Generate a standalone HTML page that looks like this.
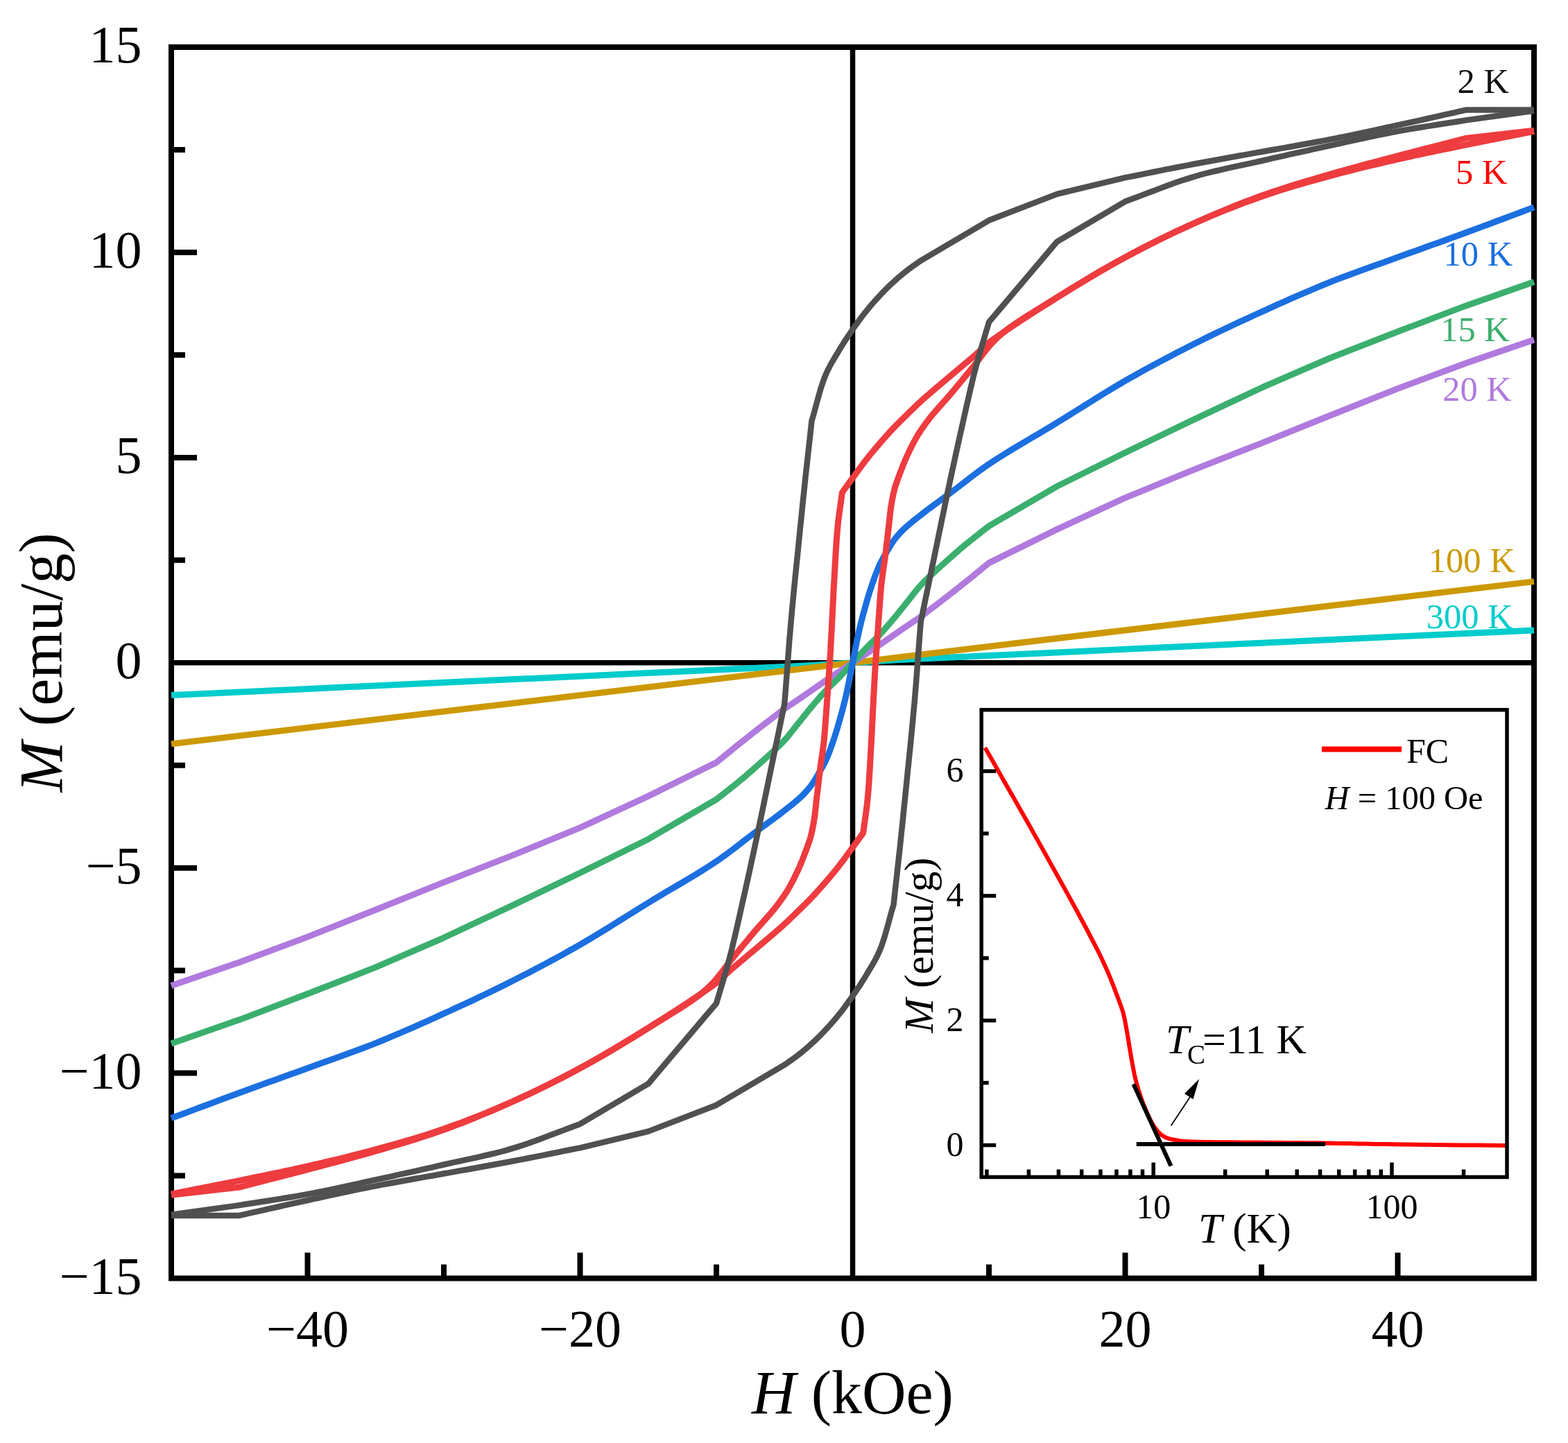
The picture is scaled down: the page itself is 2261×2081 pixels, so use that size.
<!DOCTYPE html>
<html><head><meta charset="utf-8"><style>
html,body{margin:0;padding:0;background:#fff;}
body{width:2261px;height:2081px;overflow:hidden;}
svg{display:block;}
</style></head><body>
<svg width="2261" height="2081" viewBox="0 0 2261 2081">
<rect x="0" y="0" width="2261" height="2081" fill="#fff"/>
<rect x="247" y="68" width="1965" height="1775.5" fill="none" stroke="#000" stroke-width="8"/>
<line x1="247" y1="955.75" x2="2212" y2="955.75" stroke="#000" stroke-width="7.5"/>
<line x1="1229.5" y1="68" x2="1229.5" y2="1843.5" stroke="#000" stroke-width="7.5"/>
<line x1="247.0" y1="1547.5" x2="284.0" y2="1547.5" stroke="#000" stroke-width="8"/>
<line x1="247.0" y1="1251.7" x2="284.0" y2="1251.7" stroke="#000" stroke-width="8"/>
<line x1="247.0" y1="659.9" x2="284.0" y2="659.9" stroke="#000" stroke-width="8"/>
<line x1="247.0" y1="364.0" x2="284.0" y2="364.0" stroke="#000" stroke-width="8"/>
<line x1="247.0" y1="1695.5" x2="267.0" y2="1695.5" stroke="#000" stroke-width="8"/>
<line x1="247.0" y1="1399.6" x2="267.0" y2="1399.6" stroke="#000" stroke-width="8"/>
<line x1="247.0" y1="1103.7" x2="267.0" y2="1103.7" stroke="#000" stroke-width="8"/>
<line x1="247.0" y1="807.8" x2="267.0" y2="807.8" stroke="#000" stroke-width="8"/>
<line x1="247.0" y1="511.9" x2="267.0" y2="511.9" stroke="#000" stroke-width="8"/>
<line x1="247.0" y1="216.0" x2="267.0" y2="216.0" stroke="#000" stroke-width="8"/>
<line x1="443.5" y1="1843.5" x2="443.5" y2="1806.5" stroke="#000" stroke-width="8"/>
<line x1="836.5" y1="1843.5" x2="836.5" y2="1806.5" stroke="#000" stroke-width="8"/>
<line x1="1622.5" y1="1843.5" x2="1622.5" y2="1806.5" stroke="#000" stroke-width="8"/>
<line x1="2015.5" y1="1843.5" x2="2015.5" y2="1806.5" stroke="#000" stroke-width="8"/>
<line x1="640.0" y1="1843.5" x2="640.0" y2="1823.5" stroke="#000" stroke-width="8"/>
<line x1="1033.0" y1="1843.5" x2="1033.0" y2="1823.5" stroke="#000" stroke-width="8"/>
<line x1="1426.0" y1="1843.5" x2="1426.0" y2="1823.5" stroke="#000" stroke-width="8"/>
<line x1="1819.0" y1="1843.5" x2="1819.0" y2="1823.5" stroke="#000" stroke-width="8"/>
<polyline points="247.0,1002.5 443.5,993.4 640.0,984.3 836.5,975.2 934.8,970.6 1033.0,966.0 1092.0,963.3 1131.2,961.4 1150.9,960.4 1170.5,959.4 1190.2,958.3 1209.8,957.0 1229.5,955.8 1249.2,954.5 1268.8,953.2 1288.5,952.1 1308.1,951.1 1327.8,950.1 1367.0,948.2 1426.0,945.5 1524.2,940.9 1622.5,936.3 1819.0,927.2 2015.5,918.1 2212.0,909.0" fill="none" stroke="#00CCCC" stroke-width="9" stroke-linejoin="round" stroke-linecap="butt"/>
<polyline points="247.0,1072.9 2212.0,838.6" fill="none" stroke="#CC9900" stroke-width="9" stroke-linejoin="round" stroke-linecap="butt"/>
<polyline points="247.0,1421.5 345.3,1387.8 443.5,1351.1 541.8,1312.0 640.0,1272.4 738.2,1233.9 836.5,1193.7 934.8,1148.1 1033.0,1099.6 1037.1,1096.2 1041.2,1092.9 1045.3,1089.6 1049.4,1086.3 1053.4,1083.0 1057.5,1079.6 1061.6,1076.3 1065.7,1073.0 1069.8,1069.7 1073.9,1066.4 1078.0,1063.2 1082.1,1059.9 1086.2,1056.7 1090.3,1053.5 1094.4,1050.3 1098.5,1047.2 1102.6,1044.0 1106.7,1040.9 1110.8,1037.7 1114.9,1034.6 1119.0,1031.5 1123.1,1028.3 1127.2,1025.2 1131.2,1022.0 1132.9,1020.9 1134.5,1019.9 1136.2,1018.8 1137.8,1017.7 1139.4,1016.6 1141.1,1015.6 1142.7,1014.5 1144.4,1013.4 1146.0,1012.3 1147.6,1011.2 1149.3,1010.1 1150.9,1009.0 1152.5,1007.9 1154.2,1006.8 1155.8,1005.6 1157.5,1004.5 1159.1,1003.4 1160.7,1002.2 1162.4,1001.1 1164.0,1000.0 1165.6,998.8 1167.3,997.7 1168.9,996.5 1170.5,995.4 1172.2,994.3 1173.8,993.1 1175.5,992.0 1177.1,990.8 1178.7,989.7 1180.4,988.6 1182.0,987.4 1183.6,986.3 1185.3,985.2 1186.9,984.0 1188.6,982.9 1190.2,981.8 1191.8,980.7 1193.5,979.6 1195.1,978.5 1196.7,977.4 1198.4,976.3 1200.0,975.2 1201.7,974.2 1203.3,973.1 1204.9,972.0 1206.6,970.9 1208.2,969.9 1209.8,968.8 1211.5,967.7 1213.1,966.6 1214.8,965.5 1216.4,964.4 1218.0,963.3 1219.7,962.3 1221.3,961.2 1222.9,960.1 1224.6,959.0 1226.2,957.9 1227.9,956.8 1229.5,955.7 1231.1,954.7 1232.8,953.6 1234.4,952.5 1236.1,951.4 1237.7,950.3 1239.3,949.2 1241.0,948.2 1242.6,947.1 1244.2,946.0 1245.9,944.9 1247.5,943.8 1249.2,942.7 1250.8,941.6 1252.4,940.6 1254.1,939.5 1255.7,938.4 1257.3,937.3 1259.0,936.3 1260.6,935.2 1262.3,934.1 1263.9,933.0 1265.5,931.9 1267.2,930.8 1268.8,929.7 1270.4,928.6 1272.1,927.5 1273.7,926.3 1275.4,925.2 1277.0,924.1 1278.6,922.9 1280.3,921.8 1281.9,920.7 1283.5,919.5 1285.2,918.4 1286.8,917.2 1288.5,916.1 1290.1,915.0 1291.7,913.8 1293.4,912.7 1295.0,911.5 1296.6,910.4 1298.3,909.3 1299.9,908.1 1301.5,907.0 1303.2,905.9 1304.8,904.7 1306.5,903.6 1308.1,902.5 1309.7,901.4 1311.4,900.3 1313.0,899.2 1314.6,898.1 1316.3,897.0 1317.9,895.9 1319.6,894.9 1321.2,893.8 1322.8,892.7 1324.5,891.6 1326.1,890.6 1327.8,889.5 1331.8,886.3 1335.9,883.2 1340.0,880.0 1344.1,876.9 1348.2,873.8 1352.3,870.6 1356.4,867.5 1360.5,864.3 1364.6,861.2 1368.7,858.0 1372.8,854.8 1376.9,851.6 1381.0,848.3 1385.1,845.1 1389.2,841.8 1393.3,838.5 1397.4,835.2 1401.5,831.9 1405.6,828.5 1409.6,825.2 1413.7,821.9 1417.8,818.6 1421.9,815.3 1426.0,811.9 1524.2,763.4 1622.5,717.8 1720.8,677.6 1819.0,639.1 1917.2,599.5 2015.5,560.4 2113.8,523.7 2212.0,490.0" fill="none" stroke="#B07ADE" stroke-width="9" stroke-linejoin="round" stroke-linecap="butt"/>
<polyline points="247.0,1504.9 345.3,1470.6 443.5,1433.3 541.8,1394.9 640.0,1352.3 738.2,1306.1 836.5,1258.8 934.8,1210.2 1033.0,1152.8 1034.6,1151.5 1036.3,1150.3 1037.9,1149.0 1039.6,1147.7 1041.2,1146.4 1042.8,1145.2 1044.5,1143.9 1046.1,1142.6 1047.7,1141.3 1049.4,1140.0 1051.0,1138.7 1052.7,1137.4 1054.3,1136.1 1055.9,1134.8 1057.6,1133.5 1059.2,1132.2 1060.9,1130.9 1062.5,1129.5 1064.1,1128.2 1065.8,1126.9 1067.4,1125.5 1069.0,1124.2 1070.7,1122.8 1072.3,1121.5 1073.9,1120.1 1075.6,1118.7 1077.2,1117.2 1078.9,1115.8 1080.5,1114.4 1082.2,1113.0 1083.8,1111.5 1085.4,1110.1 1087.1,1108.6 1088.7,1107.2 1090.3,1105.7 1092.0,1104.3 1093.6,1102.8 1095.2,1101.4 1096.9,1099.9 1098.5,1098.4 1100.2,1097.0 1101.8,1095.5 1103.4,1094.0 1105.1,1092.5 1106.7,1091.1 1108.3,1089.6 1110.0,1088.1 1111.6,1086.5 1113.3,1085.0 1114.9,1083.5 1116.6,1082.0 1118.2,1080.4 1119.9,1078.9 1121.5,1077.4 1123.2,1075.8 1124.8,1074.2 1126.4,1072.6 1128.0,1071.0 1129.7,1069.3 1131.2,1067.6 1132.9,1065.7 1134.6,1063.8 1136.3,1061.8 1137.9,1059.8 1139.5,1057.8 1141.2,1055.7 1142.8,1053.7 1144.4,1051.6 1146.0,1049.5 1147.6,1047.4 1149.3,1045.4 1150.9,1043.3 1152.5,1041.3 1154.2,1039.3 1155.8,1037.2 1157.4,1035.2 1159.1,1033.2 1160.7,1031.1 1162.3,1029.1 1164.0,1027.1 1165.6,1025.0 1167.2,1023.0 1168.9,1021.0 1170.5,1019.1 1172.2,1017.1 1173.8,1015.2 1175.4,1013.3 1177.0,1011.4 1178.7,1009.5 1180.3,1007.6 1181.9,1005.7 1183.6,1003.9 1185.2,1002.0 1186.9,1000.2 1188.5,998.4 1190.2,996.6 1191.8,994.9 1193.4,993.2 1195.1,991.6 1196.7,990.0 1198.4,988.4 1200.0,986.8 1201.7,985.2 1203.3,983.6 1205.0,982.0 1206.6,980.4 1208.2,978.7 1209.8,977.1 1211.5,975.3 1213.2,973.6 1214.8,971.8 1216.4,970.1 1218.1,968.3 1219.7,966.5 1221.3,964.7 1223.0,962.9 1224.6,961.1 1226.2,959.3 1227.9,957.5 1229.5,955.8 1231.1,954.0 1232.8,952.2 1234.4,950.4 1236.0,948.6 1237.7,946.8 1239.3,945.0 1240.9,943.2 1242.6,941.4 1244.2,939.7 1245.8,937.9 1247.5,936.2 1249.2,934.4 1250.8,932.8 1252.4,931.1 1254.0,929.5 1255.7,927.9 1257.3,926.3 1259.0,924.7 1260.6,923.1 1262.3,921.5 1263.9,919.9 1265.6,918.3 1267.2,916.6 1268.8,914.9 1270.5,913.1 1272.1,911.3 1273.8,909.5 1275.4,907.6 1277.1,905.8 1278.7,903.9 1280.3,902.0 1282.0,900.1 1283.6,898.2 1285.2,896.3 1286.8,894.4 1288.4,892.4 1290.1,890.5 1291.8,888.5 1293.4,886.5 1295.0,884.4 1296.7,882.4 1298.3,880.4 1299.9,878.3 1301.6,876.3 1303.2,874.3 1304.8,872.2 1306.5,870.2 1308.1,868.2 1309.7,866.1 1311.4,864.1 1313.0,862.0 1314.6,859.9 1316.2,857.8 1317.8,855.8 1319.5,853.7 1321.1,851.7 1322.7,849.7 1324.4,847.7 1326.1,845.8 1327.8,843.9 1329.3,842.2 1331.0,840.5 1332.6,838.9 1334.2,837.3 1335.8,835.7 1337.5,834.1 1339.1,832.6 1340.8,831.1 1342.4,829.5 1344.1,828.0 1345.7,826.5 1347.4,825.0 1349.0,823.4 1350.7,821.9 1352.3,820.4 1353.9,819.0 1355.6,817.5 1357.2,816.0 1358.8,814.5 1360.5,813.1 1362.1,811.6 1363.8,810.1 1365.4,808.7 1367.0,807.2 1368.7,805.8 1370.3,804.3 1371.9,802.9 1373.6,801.4 1375.2,800.0 1376.8,798.5 1378.5,797.1 1380.1,795.7 1381.8,794.3 1383.4,792.8 1385.1,791.4 1386.7,790.0 1388.3,788.7 1390.0,787.3 1391.6,786.0 1393.2,784.6 1394.9,783.3 1396.5,782.0 1398.1,780.6 1399.8,779.3 1401.4,778.0 1403.1,776.7 1404.7,775.4 1406.3,774.1 1408.0,772.8 1409.6,771.5 1411.3,770.2 1412.9,768.9 1414.5,767.6 1416.2,766.3 1417.8,765.1 1419.4,763.8 1421.1,762.5 1422.7,761.2 1424.4,760.0 1426.0,758.7 1524.2,701.3 1622.5,652.7 1720.8,605.4 1819.0,559.2 1917.2,516.6 2015.5,478.2 2113.8,440.9 2212.0,406.6" fill="none" stroke="#3BAF6E" stroke-width="9" stroke-linejoin="round" stroke-linecap="butt"/>
<polyline points="247.0,1612.6 255.2,1609.6 263.4,1606.5 271.6,1603.4 279.7,1600.4 287.9,1597.3 296.1,1594.2 304.3,1591.2 312.5,1588.1 320.7,1585.1 328.9,1582.0 337.1,1579.0 345.3,1576.0 353.4,1573.0 361.6,1570.0 369.8,1567.0 378.0,1564.1 386.2,1561.1 394.4,1558.2 402.6,1555.2 410.7,1552.3 418.9,1549.3 427.1,1546.4 435.3,1543.4 443.5,1540.4 451.7,1537.5 459.9,1534.5 468.1,1531.6 476.3,1528.7 484.5,1525.7 492.7,1522.8 500.9,1519.8 509.1,1516.8 517.3,1513.8 525.4,1510.7 533.6,1507.6 541.8,1504.3 550.0,1501.0 558.2,1497.6 566.4,1494.2 574.6,1490.7 582.8,1487.2 591.0,1483.7 599.2,1480.1 607.3,1476.4 615.5,1472.8 623.7,1469.1 631.8,1465.4 640.0,1461.7 648.2,1458.0 656.4,1454.2 664.6,1450.4 672.9,1446.6 681.1,1442.8 689.2,1438.9 697.4,1435.0 705.6,1431.1 713.8,1427.1 722.0,1423.1 730.1,1419.1 738.2,1415.0 746.5,1410.8 754.7,1406.6 762.9,1402.4 771.1,1398.1 779.4,1393.8 787.6,1389.4 795.7,1385.0 803.9,1380.6 812.1,1376.1 820.2,1371.5 828.4,1367.0 836.5,1362.3 844.7,1357.5 853.0,1352.6 861.2,1347.7 869.4,1342.7 877.6,1337.6 885.7,1332.5 893.9,1327.4 902.1,1322.3 910.2,1317.2 918.4,1312.1 926.6,1307.0 934.8,1302.0 943.0,1296.9 951.5,1291.8 960.1,1286.7 968.8,1281.6 977.5,1276.5 986.1,1271.3 994.6,1266.3 1002.9,1261.3 1011.0,1256.3 1018.7,1251.5 1026.1,1246.8 1033.0,1242.2 1037.8,1238.9 1042.3,1235.7 1046.6,1232.6 1050.8,1229.5 1054.8,1226.5 1058.8,1223.5 1062.6,1220.5 1066.5,1217.5 1070.3,1214.5 1074.2,1211.5 1078.1,1208.5 1082.1,1205.5 1086.3,1202.4 1090.6,1199.2 1094.9,1196.0 1099.3,1192.7 1103.7,1189.5 1108.1,1186.2 1112.4,1183.1 1116.5,1180.0 1120.6,1177.0 1124.4,1174.1 1127.9,1171.4 1131.2,1168.8 1133.2,1167.2 1135.1,1165.7 1137.0,1164.3 1138.8,1162.9 1140.5,1161.5 1142.1,1160.2 1143.7,1158.9 1145.2,1157.7 1146.7,1156.4 1148.2,1155.2 1149.5,1154.0 1150.9,1152.8 1151.9,1152.0 1152.8,1151.1 1153.6,1150.4 1154.5,1149.6 1155.3,1148.8 1156.1,1148.1 1156.9,1147.3 1157.6,1146.6 1158.4,1145.8 1159.2,1145.0 1159.9,1144.2 1160.7,1143.4 1161.6,1142.4 1162.4,1141.5 1163.2,1140.6 1164.1,1139.6 1164.9,1138.7 1165.7,1137.7 1166.6,1136.7 1167.4,1135.7 1168.2,1134.7 1169.0,1133.7 1169.8,1132.6 1170.5,1131.5 1171.4,1130.3 1172.3,1129.0 1173.1,1127.8 1173.9,1126.5 1174.7,1125.1 1175.6,1123.8 1176.4,1122.4 1177.2,1121.1 1178.0,1119.7 1178.8,1118.3 1179.6,1116.9 1180.4,1115.5 1181.2,1114.1 1182.0,1112.7 1182.9,1111.3 1183.7,1109.8 1184.6,1108.4 1185.4,1107.0 1186.2,1105.5 1187.0,1104.0 1187.8,1102.5 1188.6,1101.0 1189.4,1099.4 1190.2,1097.8 1191.1,1095.9 1191.9,1094.0 1192.8,1092.0 1193.6,1090.0 1194.5,1087.9 1195.3,1085.9 1196.1,1083.8 1196.9,1081.6 1197.7,1079.5 1198.5,1077.3 1199.2,1075.1 1200.0,1072.9 1200.9,1070.5 1201.7,1068.0 1202.6,1065.4 1203.4,1062.9 1204.2,1060.3 1205.1,1057.7 1205.9,1055.0 1206.7,1052.4 1207.5,1049.7 1208.3,1047.0 1209.1,1044.3 1209.8,1041.6 1210.7,1038.6 1211.5,1035.6 1212.4,1032.6 1213.2,1029.6 1214.1,1026.5 1214.9,1023.5 1215.7,1020.4 1216.5,1017.2 1217.3,1014.0 1218.1,1010.8 1218.9,1007.6 1219.7,1004.3 1220.5,1000.5 1221.4,996.6 1222.2,992.6 1223.1,988.6 1223.9,984.5 1224.7,980.4 1225.5,976.3 1226.3,972.2 1227.1,968.0 1227.9,963.9 1228.7,959.8 1229.5,955.8 1230.3,951.7 1231.1,947.6 1231.9,943.5 1232.7,939.3 1233.5,935.2 1234.3,931.1 1235.1,927.0 1235.9,922.9 1236.8,918.9 1237.6,914.9 1238.5,911.0 1239.3,907.2 1240.1,903.9 1240.9,900.7 1241.7,897.5 1242.5,894.3 1243.3,891.1 1244.1,888.0 1244.9,885.0 1245.8,881.9 1246.6,878.9 1247.5,875.9 1248.3,872.9 1249.2,869.9 1249.9,867.2 1250.7,864.5 1251.5,861.8 1252.3,859.1 1253.1,856.5 1253.9,853.8 1254.8,851.2 1255.6,848.6 1256.4,846.1 1257.3,843.5 1258.1,841.0 1259.0,838.6 1259.8,836.4 1260.5,834.2 1261.3,832.0 1262.1,829.9 1262.9,827.7 1263.7,825.6 1264.5,823.6 1265.4,821.5 1266.2,819.5 1267.1,817.5 1267.9,815.6 1268.8,813.7 1269.6,812.1 1270.4,810.5 1271.2,809.0 1272.0,807.5 1272.8,806.0 1273.6,804.5 1274.4,803.1 1275.3,801.7 1276.1,800.2 1277.0,798.8 1277.8,797.4 1278.6,796.0 1279.4,794.6 1280.2,793.2 1281.0,791.8 1281.8,790.4 1282.6,789.1 1283.4,787.7 1284.3,786.4 1285.1,785.0 1285.9,783.7 1286.7,782.5 1287.6,781.2 1288.4,780.0 1289.2,778.9 1290.0,777.8 1290.8,776.8 1291.6,775.8 1292.4,774.8 1293.3,773.8 1294.1,772.8 1294.9,771.9 1295.8,770.9 1296.6,770.0 1297.4,769.1 1298.3,768.1 1299.1,767.3 1299.8,766.5 1300.6,765.7 1301.4,764.9 1302.1,764.2 1302.9,763.4 1303.7,762.7 1304.5,761.9 1305.4,761.1 1306.2,760.4 1307.1,759.5 1308.1,758.7 1309.5,757.5 1310.8,756.3 1312.3,755.1 1313.8,753.8 1315.3,752.6 1316.9,751.3 1318.5,750.0 1320.2,748.6 1322.0,747.2 1323.9,745.8 1325.8,744.3 1327.8,742.7 1331.1,740.1 1334.6,737.4 1338.4,734.5 1342.5,731.5 1346.6,728.4 1350.9,725.3 1355.3,722.0 1359.7,718.8 1364.1,715.5 1368.4,712.3 1372.7,709.1 1376.9,706.0 1380.9,703.0 1384.8,700.0 1388.7,697.0 1392.5,694.0 1396.4,691.0 1400.2,688.0 1404.2,685.0 1408.2,682.0 1412.4,678.9 1416.7,675.8 1421.2,672.6 1426.0,669.3 1432.9,664.7 1440.3,660.0 1448.0,655.2 1456.1,650.2 1464.4,645.2 1472.9,640.2 1481.5,635.0 1490.2,629.9 1498.9,624.8 1507.5,619.7 1516.0,614.6 1524.2,609.5 1532.4,604.5 1540.6,599.4 1548.8,594.3 1556.9,589.2 1565.1,584.1 1573.3,579.0 1581.4,573.9 1589.6,568.8 1597.8,563.8 1606.0,558.9 1614.3,554.0 1622.5,549.2 1630.6,544.5 1638.8,540.0 1646.9,535.4 1655.1,530.9 1663.3,526.5 1671.4,522.1 1679.6,517.7 1687.9,513.4 1696.1,509.1 1704.3,504.9 1712.5,500.7 1720.7,496.5 1728.9,492.4 1737.0,488.4 1745.2,484.4 1753.4,480.4 1761.6,476.5 1769.8,472.6 1777.9,468.7 1786.1,464.9 1794.4,461.1 1802.6,457.3 1810.8,453.5 1819.0,449.8 1827.2,446.1 1835.3,442.4 1843.5,438.7 1851.7,435.1 1859.8,431.4 1868.0,427.8 1876.2,424.3 1884.4,420.8 1892.6,417.3 1900.8,413.9 1909.0,410.5 1917.2,407.2 1925.4,403.9 1933.6,400.8 1941.7,397.7 1949.9,394.7 1958.1,391.7 1966.3,388.7 1974.5,385.8 1982.7,382.8 1990.9,379.9 1999.1,377.0 2007.3,374.0 2015.5,371.1 2023.7,368.1 2031.9,365.1 2040.1,362.2 2048.3,359.2 2056.4,356.3 2064.6,353.3 2072.8,350.4 2081.0,347.4 2089.2,344.5 2097.4,341.5 2105.6,338.5 2113.8,335.5 2121.9,332.5 2130.1,329.5 2138.3,326.4 2146.5,323.4 2154.7,320.3 2162.9,317.3 2171.1,314.2 2179.3,311.1 2187.4,308.1 2195.6,305.0 2203.8,301.9 2212.0,298.9" fill="none" stroke="#1B6FDF" stroke-width="9" stroke-linejoin="round" stroke-linecap="butt"/>
<polyline points="2212.0,188.2 2113.8,199.4 2105.6,201.5 2097.4,203.7 2089.2,205.8 2081.0,207.9 2072.8,210.0 2064.6,212.1 2056.4,214.2 2048.2,216.3 2040.1,218.4 2031.9,220.6 2023.7,222.7 2015.5,224.9 2007.3,227.0 1999.1,229.2 1990.9,231.4 1982.7,233.5 1974.5,235.7 1966.3,237.9 1958.1,240.1 1950.0,242.3 1941.8,244.5 1933.6,246.8 1925.4,249.1 1917.2,251.5 1909.0,253.9 1900.8,256.3 1892.6,258.7 1884.4,261.1 1876.2,263.6 1868.0,266.1 1859.8,268.6 1851.6,271.2 1843.4,273.9 1835.3,276.6 1827.1,279.4 1819.0,282.3 1810.8,285.3 1802.5,288.4 1794.3,291.5 1786.1,294.7 1777.9,298.0 1769.7,301.4 1761.5,304.8 1753.3,308.2 1745.2,311.7 1737.0,315.3 1728.9,318.9 1720.8,322.5 1712.5,326.3 1704.3,330.1 1696.0,333.9 1687.8,337.8 1679.6,341.8 1671.4,345.8 1663.2,349.9 1655.0,354.0 1646.9,358.2 1638.7,362.4 1630.6,366.7 1622.5,371.1 1614.2,375.6 1606.0,380.2 1597.8,384.8 1589.5,389.5 1581.3,394.3 1573.2,399.1 1565.0,404.0 1556.8,409.0 1548.7,413.9 1540.5,418.9 1532.4,424.0 1524.2,429.0 1515.8,434.4 1506.9,440.0 1497.8,445.8 1488.5,451.7 1479.3,457.6 1470.2,463.6 1461.4,469.4 1453.0,475.0 1445.1,480.4 1437.9,485.4 1431.5,490.0 1426.0,494.1 1423.8,495.9 1421.7,497.6 1419.9,499.2 1418.2,500.7 1416.6,502.2 1415.1,503.6 1413.7,505.0 1412.3,506.4 1410.9,507.7 1409.4,509.1 1407.9,510.5 1406.3,511.9 1404.7,513.3 1403.1,514.7 1401.5,516.1 1399.8,517.5 1398.2,518.9 1396.5,520.2 1394.9,521.6 1393.3,523.0 1391.6,524.3 1390.0,525.7 1388.3,527.1 1386.7,528.5 1385.1,529.9 1383.4,531.2 1381.8,532.6 1380.2,534.0 1378.5,535.4 1376.9,536.8 1375.2,538.1 1373.6,539.5 1372.0,540.9 1370.3,542.3 1368.7,543.7 1367.1,545.0 1365.4,546.4 1363.8,547.8 1362.1,549.2 1360.5,550.5 1358.9,551.9 1357.2,553.3 1355.6,554.7 1353.9,556.1 1352.3,557.4 1350.7,558.8 1349.0,560.2 1347.4,561.6 1345.8,563.0 1344.1,564.4 1342.5,565.8 1340.8,567.2 1339.2,568.7 1337.5,570.1 1335.9,571.5 1334.3,572.9 1332.6,574.4 1331.0,575.8 1329.4,577.3 1327.8,578.8 1326.1,580.3 1324.4,581.8 1322.8,583.4 1321.2,585.0 1319.5,586.5 1317.9,588.1 1316.3,589.7 1314.6,591.3 1313.0,592.9 1311.4,594.5 1309.7,596.1 1308.1,597.7 1306.5,599.3 1304.8,600.9 1303.2,602.5 1301.5,604.1 1299.9,605.7 1298.2,607.3 1296.6,609.0 1295.0,610.6 1293.3,612.2 1291.7,613.9 1290.1,615.6 1288.5,617.2 1286.8,619.0 1285.1,620.8 1283.5,622.6 1281.8,624.4 1280.2,626.2 1278.6,628.0 1276.9,629.8 1275.3,631.7 1273.7,633.5 1272.0,635.4 1270.4,637.3 1268.8,639.1 1267.1,641.1 1265.5,643.0 1263.8,644.9 1262.2,646.9 1260.5,648.8 1258.9,650.8 1257.3,652.7 1255.6,654.7 1254.0,656.7 1252.4,658.7 1250.8,660.8 1249.1,662.8 1247.5,665.0 1245.8,667.2 1244.1,669.4 1242.4,671.7 1240.8,673.9 1239.1,676.2 1237.5,678.5 1235.8,680.7 1234.2,683.0 1232.6,685.2 1231.0,687.3 1229.5,689.4 1228.2,691.3 1226.9,693.0 1225.6,694.8 1224.3,696.5 1223.1,698.3 1221.8,700.0 1220.6,701.7 1219.3,703.3 1218.1,705.0 1216.9,706.7 1215.6,708.4 1214.4,710.2 1213.8,714.3 1213.3,718.3 1212.7,722.4 1212.1,726.4 1211.6,730.4 1211.0,734.4 1210.4,738.5 1209.9,742.6 1209.3,746.8 1208.8,751.0 1208.3,755.4 1207.9,759.9 1207.4,765.4 1206.9,771.0 1206.5,776.7 1206.0,782.6 1205.7,788.5 1205.3,794.5 1204.9,800.6 1204.6,806.7 1204.2,812.9 1203.9,819.1 1203.5,825.3 1203.2,831.5 1202.8,838.3 1202.4,845.3 1202.0,852.6 1201.6,859.9 1201.3,867.3 1200.9,874.6 1200.5,881.9 1200.2,889.0 1199.8,896.0 1199.5,902.6 1199.2,909.0 1198.8,914.9 1198.6,918.8 1198.4,922.6 1198.2,926.2 1198.0,929.8 1197.8,933.2 1197.7,936.5 1197.5,939.8 1197.3,943.0 1197.1,946.2 1196.9,949.4 1196.7,952.6 1196.5,955.8 1196.3,958.6 1196.1,961.3 1195.9,964.0 1195.7,966.7 1195.5,969.3 1195.3,971.9 1195.1,974.6 1194.9,977.2 1194.7,979.9 1194.5,982.6 1194.3,985.4 1194.1,988.3 1193.9,991.8 1193.6,995.3 1193.4,999.0 1193.1,1002.7 1192.9,1006.5 1192.6,1010.3 1192.3,1014.1 1192.1,1017.9 1191.8,1021.7 1191.5,1025.4 1191.3,1029.1 1191.0,1032.7 1190.7,1036.0 1190.5,1039.3 1190.3,1042.5 1190.0,1045.8 1189.8,1049.0 1189.6,1052.2 1189.3,1055.4 1189.0,1058.6 1188.8,1061.7 1188.5,1064.9 1188.2,1068.0 1187.8,1071.2 1187.5,1074.1 1187.1,1077.1 1186.7,1080.0 1186.3,1082.9 1185.9,1085.8 1185.5,1088.7 1185.1,1091.6 1184.6,1094.5 1184.2,1097.5 1183.8,1100.5 1183.3,1103.5 1182.9,1106.7 1182.5,1110.3 1182.0,1114.1 1181.5,1118.0 1181.0,1122.0 1180.6,1126.0 1180.1,1130.0 1179.6,1134.0 1179.2,1138.0 1178.7,1141.9 1178.3,1145.6 1177.8,1149.3 1177.4,1152.8 1177.1,1155.5 1176.8,1158.2 1176.5,1160.8 1176.3,1163.3 1176.0,1165.8 1175.7,1168.2 1175.5,1170.6 1175.2,1173.0 1174.9,1175.4 1174.6,1177.7 1174.3,1180.1 1173.9,1182.4 1173.5,1184.5 1173.2,1186.6 1172.9,1188.7 1172.5,1190.7 1172.1,1192.7 1171.7,1194.7 1171.3,1196.7 1170.9,1198.7 1170.5,1200.7 1170.0,1202.7 1169.5,1204.7 1169.0,1206.7 1168.4,1208.7 1167.8,1210.7 1167.2,1212.6 1166.5,1214.6 1165.8,1216.6 1165.1,1218.6 1164.4,1220.5 1163.7,1222.5 1163.0,1224.5 1162.2,1226.4 1161.5,1228.4 1160.7,1230.3 1160.0,1232.3 1159.2,1234.3 1158.5,1236.2 1157.7,1238.2 1157.0,1240.1 1156.2,1242.1 1155.4,1244.0 1154.6,1246.0 1153.8,1248.0 1152.9,1250.0 1152.0,1252.0 1151.1,1254.0 1150.0,1256.4 1148.8,1258.8 1147.7,1261.3 1146.4,1263.8 1145.2,1266.3 1143.9,1268.8 1142.6,1271.4 1141.3,1273.9 1139.9,1276.4 1138.6,1278.8 1137.2,1281.2 1135.8,1283.6 1134.4,1285.8 1133.0,1288.0 1131.7,1290.1 1130.3,1292.2 1128.9,1294.3 1127.4,1296.3 1125.9,1298.4 1124.4,1300.5 1122.9,1302.6 1121.3,1304.7 1119.6,1306.8 1117.9,1309.1 1115.7,1311.8 1113.4,1314.6 1111.0,1317.4 1108.5,1320.3 1105.9,1323.2 1103.3,1326.2 1100.7,1329.1 1098.1,1332.1 1095.4,1335.0 1092.8,1338.0 1090.2,1341.0 1087.6,1344.0 1085.1,1347.0 1082.5,1350.1 1080.0,1353.1 1077.5,1356.2 1074.9,1359.2 1072.4,1362.3 1069.9,1365.4 1067.3,1368.5 1064.7,1371.7 1062.1,1374.8 1059.5,1378.0 1056.8,1381.3 1053.8,1384.9 1051.0,1388.5 1048.2,1392.3 1045.3,1396.0 1042.5,1399.8 1039.6,1403.6 1036.6,1407.4 1033.5,1411.2 1030.2,1415.0 1026.7,1418.8 1023.0,1422.5 1019.0,1426.2 1013.4,1431.0 1007.4,1435.8 1000.9,1440.6 994.2,1445.3 987.1,1450.0 979.9,1454.6 972.4,1459.3 964.9,1463.9 957.3,1468.6 949.7,1473.2 942.2,1477.8 934.8,1482.5 926.9,1487.4 918.9,1492.3 910.9,1497.3 902.7,1502.2 894.6,1507.2 886.3,1512.1 878.0,1517.0 869.7,1521.8 861.4,1526.6 853.1,1531.3 844.8,1535.9 836.5,1540.4 828.4,1544.8 820.3,1549.1 812.1,1553.4 804.0,1557.6 795.8,1561.7 787.6,1565.8 779.4,1569.8 771.2,1573.8 763.0,1577.7 754.8,1581.5 746.5,1585.3 738.3,1589.0 730.1,1592.6 722.0,1596.1 713.8,1599.6 705.7,1603.0 697.5,1606.3 689.3,1609.6 681.1,1612.8 672.9,1616.0 664.7,1619.1 656.5,1622.1 648.2,1625.1 640.0,1628.0 631.9,1630.8 623.7,1633.5 615.6,1636.2 607.4,1638.7 599.2,1641.3 591.0,1643.7 582.8,1646.1 574.6,1648.5 566.4,1650.8 558.2,1653.1 550.0,1655.4 541.8,1657.6 533.6,1659.8 525.4,1662.0 517.2,1664.1 509.1,1666.2 500.9,1668.3 492.7,1670.3 484.5,1672.3 476.3,1674.2 468.1,1676.2 459.9,1678.1 451.7,1680.0 443.5,1681.9 435.3,1683.7 427.1,1685.5 419.0,1687.3 410.8,1689.0 402.6,1690.8 394.4,1692.5 386.2,1694.1 378.0,1695.8 369.8,1697.5 361.6,1699.2 353.4,1700.9 345.3,1702.6 247.0,1722.1" fill="none" stroke="#EE3C3F" stroke-width="9" stroke-linejoin="round" stroke-linecap="butt"/>
<polyline points="247.0,1723.3 345.3,1712.1 353.4,1710.0 361.6,1707.8 369.8,1705.7 378.0,1703.6 386.2,1701.5 394.4,1699.4 402.6,1697.3 410.8,1695.2 418.9,1693.1 427.1,1690.9 435.3,1688.8 443.5,1686.6 451.7,1684.5 459.9,1682.3 468.1,1680.1 476.3,1678.0 484.5,1675.8 492.7,1673.6 500.9,1671.4 509.0,1669.2 517.2,1667.0 525.4,1664.7 533.6,1662.4 541.8,1660.0 550.0,1657.6 558.2,1655.2 566.4,1652.8 574.6,1650.4 582.8,1647.9 591.0,1645.4 599.2,1642.9 607.4,1640.3 615.6,1637.6 623.7,1634.9 631.9,1632.1 640.0,1629.2 648.2,1626.2 656.5,1623.1 664.7,1620.0 672.9,1616.8 681.1,1613.5 689.3,1610.1 697.5,1606.7 705.7,1603.3 713.8,1599.8 722.0,1596.2 730.1,1592.6 738.2,1589.0 746.5,1585.2 754.7,1581.4 763.0,1577.6 771.2,1573.7 779.4,1569.7 787.6,1565.7 795.8,1561.6 804.0,1557.5 812.1,1553.3 820.3,1549.1 828.4,1544.8 836.5,1540.4 844.8,1535.9 853.0,1531.3 861.2,1526.7 869.5,1522.0 877.7,1517.2 885.8,1512.4 894.0,1507.5 902.2,1502.5 910.3,1497.6 918.5,1492.6 926.6,1487.5 934.8,1482.5 943.2,1477.1 952.1,1471.5 961.2,1465.7 970.5,1459.8 979.7,1453.9 988.8,1447.9 997.6,1442.1 1006.0,1436.5 1013.9,1431.1 1021.1,1426.1 1027.5,1421.5 1033.0,1417.4 1035.2,1415.6 1037.3,1413.9 1039.1,1412.3 1040.8,1410.8 1042.4,1409.3 1043.9,1407.9 1045.3,1406.5 1046.7,1405.1 1048.1,1403.8 1049.6,1402.4 1051.1,1401.0 1052.7,1399.6 1054.3,1398.2 1055.9,1396.8 1057.5,1395.4 1059.2,1394.0 1060.8,1392.6 1062.5,1391.3 1064.1,1389.9 1065.7,1388.5 1067.4,1387.2 1069.0,1385.8 1070.7,1384.4 1072.3,1383.0 1073.9,1381.6 1075.6,1380.3 1077.2,1378.9 1078.8,1377.5 1080.5,1376.1 1082.1,1374.7 1083.8,1373.4 1085.4,1372.0 1087.0,1370.6 1088.7,1369.2 1090.3,1367.8 1092.0,1366.5 1093.6,1365.1 1095.2,1363.7 1096.9,1362.3 1098.5,1361.0 1100.1,1359.6 1101.8,1358.2 1103.4,1356.8 1105.1,1355.4 1106.7,1354.1 1108.3,1352.7 1110.0,1351.3 1111.6,1349.9 1113.2,1348.5 1114.9,1347.1 1116.5,1345.7 1118.2,1344.3 1119.8,1342.8 1121.5,1341.4 1123.1,1340.0 1124.7,1338.6 1126.4,1337.1 1128.0,1335.7 1129.6,1334.2 1131.2,1332.7 1132.9,1331.2 1134.6,1329.7 1136.2,1328.1 1137.8,1326.5 1139.5,1325.0 1141.1,1323.4 1142.7,1321.8 1144.4,1320.2 1146.0,1318.6 1147.6,1317.0 1149.3,1315.4 1150.9,1313.8 1152.5,1312.2 1154.2,1310.6 1155.8,1309.0 1157.5,1307.4 1159.1,1305.8 1160.8,1304.2 1162.4,1302.5 1164.0,1300.9 1165.7,1299.3 1167.3,1297.6 1168.9,1295.9 1170.5,1294.3 1172.2,1292.5 1173.9,1290.7 1175.5,1288.9 1177.2,1287.1 1178.8,1285.3 1180.4,1283.5 1182.1,1281.7 1183.7,1279.8 1185.3,1278.0 1187.0,1276.1 1188.6,1274.2 1190.2,1272.4 1191.9,1270.4 1193.5,1268.5 1195.2,1266.6 1196.8,1264.6 1198.5,1262.7 1200.1,1260.7 1201.7,1258.8 1203.4,1256.8 1205.0,1254.8 1206.6,1252.8 1208.2,1250.7 1209.8,1248.7 1211.5,1246.5 1213.2,1244.3 1214.9,1242.1 1216.6,1239.8 1218.2,1237.6 1219.9,1235.3 1221.5,1233.0 1223.2,1230.8 1224.8,1228.5 1226.4,1226.3 1228.0,1224.2 1229.5,1222.1 1230.8,1220.2 1232.1,1218.5 1233.4,1216.7 1234.7,1215.0 1235.9,1213.2 1237.2,1211.5 1238.4,1209.8 1239.7,1208.2 1240.9,1206.5 1242.1,1204.8 1243.4,1203.1 1244.6,1201.3 1245.2,1197.2 1245.7,1193.2 1246.3,1189.1 1246.9,1185.1 1247.4,1181.1 1248.0,1177.1 1248.6,1173.0 1249.1,1168.9 1249.7,1164.7 1250.2,1160.5 1250.7,1156.1 1251.1,1151.6 1251.6,1146.1 1252.1,1140.5 1252.5,1134.8 1253.0,1128.9 1253.3,1123.0 1253.7,1117.0 1254.1,1110.9 1254.4,1104.8 1254.8,1098.6 1255.1,1092.4 1255.5,1086.2 1255.8,1080.0 1256.2,1073.2 1256.6,1066.2 1257.0,1058.9 1257.4,1051.6 1257.7,1044.2 1258.1,1036.9 1258.5,1029.6 1258.8,1022.5 1259.2,1015.5 1259.5,1008.9 1259.8,1002.5 1260.2,996.6 1260.4,992.7 1260.6,988.9 1260.8,985.3 1261.0,981.7 1261.2,978.3 1261.3,975.0 1261.5,971.7 1261.7,968.5 1261.9,965.3 1262.1,962.1 1262.3,958.9 1262.5,955.8 1262.7,952.9 1262.9,950.2 1263.1,947.5 1263.3,944.8 1263.5,942.2 1263.7,939.6 1263.9,936.9 1264.1,934.3 1264.3,931.6 1264.5,928.9 1264.7,926.1 1264.9,923.2 1265.1,919.7 1265.4,916.2 1265.6,912.5 1265.9,908.8 1266.1,905.0 1266.4,901.2 1266.7,897.4 1266.9,893.6 1267.2,889.8 1267.5,886.1 1267.7,882.4 1268.0,878.8 1268.3,875.5 1268.5,872.2 1268.7,869.0 1269.0,865.7 1269.2,862.5 1269.4,859.3 1269.7,856.1 1270.0,852.9 1270.2,849.8 1270.5,846.6 1270.8,843.5 1271.2,840.3 1271.5,837.4 1271.9,834.4 1272.3,831.5 1272.7,828.6 1273.1,825.7 1273.5,822.8 1273.9,819.9 1274.4,817.0 1274.8,814.0 1275.2,811.0 1275.7,808.0 1276.1,804.8 1276.5,801.2 1277.0,797.4 1277.5,793.5 1278.0,789.5 1278.4,785.5 1278.9,781.5 1279.4,777.5 1279.8,773.5 1280.3,769.6 1280.7,765.9 1281.2,762.2 1281.6,758.7 1281.9,756.0 1282.2,753.3 1282.5,750.7 1282.7,748.2 1283.0,745.7 1283.3,743.3 1283.5,740.9 1283.8,738.5 1284.1,736.1 1284.4,733.8 1284.7,731.4 1285.1,729.1 1285.5,727.0 1285.8,724.9 1286.1,722.8 1286.5,720.8 1286.9,718.8 1287.3,716.8 1287.7,714.8 1288.1,712.8 1288.5,710.8 1289.0,708.8 1289.5,706.8 1290.0,704.8 1290.6,702.8 1291.2,700.8 1291.8,698.9 1292.5,696.9 1293.2,694.9 1293.9,692.9 1294.6,691.0 1295.3,689.0 1296.0,687.0 1296.8,685.1 1297.5,683.1 1298.3,681.2 1299.0,679.2 1299.8,677.2 1300.5,675.3 1301.3,673.3 1302.0,671.4 1302.8,669.4 1303.6,667.5 1304.4,665.5 1305.2,663.5 1306.1,661.5 1307.0,659.5 1307.9,657.5 1309.0,655.1 1310.2,652.7 1311.3,650.2 1312.6,647.7 1313.8,645.2 1315.1,642.7 1316.4,640.1 1317.7,637.6 1319.1,635.1 1320.4,632.7 1321.8,630.3 1323.2,627.9 1324.6,625.7 1326.0,623.5 1327.3,621.4 1328.7,619.3 1330.1,617.2 1331.6,615.2 1333.1,613.1 1334.6,611.0 1336.1,608.9 1337.7,606.8 1339.4,604.7 1341.1,602.4 1343.3,599.7 1345.6,596.9 1348.0,594.1 1350.5,591.2 1353.1,588.3 1355.7,585.3 1358.3,582.4 1360.9,579.4 1363.6,576.5 1366.2,573.5 1368.8,570.5 1371.4,567.5 1373.9,564.5 1376.5,561.4 1379.0,558.4 1381.5,555.3 1384.1,552.3 1386.6,549.2 1389.1,546.1 1391.7,543.0 1394.3,539.8 1396.9,536.7 1399.5,533.5 1402.2,530.2 1405.2,526.6 1408.0,523.0 1410.8,519.2 1413.7,515.5 1416.5,511.7 1419.4,507.9 1422.4,504.1 1425.5,500.3 1428.8,496.5 1432.3,492.7 1436.0,489.0 1440.0,485.3 1445.6,480.5 1451.6,475.7 1458.1,470.9 1464.8,466.2 1471.9,461.5 1479.1,456.9 1486.6,452.2 1494.1,447.6 1501.7,442.9 1509.3,438.3 1516.8,433.7 1524.3,429.0 1532.1,424.1 1540.1,419.2 1548.1,414.2 1556.3,409.3 1564.4,404.3 1572.7,399.4 1581.0,394.5 1589.3,389.7 1597.6,384.9 1605.9,380.2 1614.2,375.6 1622.5,371.1 1630.6,366.7 1638.7,362.4 1646.9,358.1 1655.0,353.9 1663.2,349.8 1671.4,345.7 1679.6,341.7 1687.8,337.7 1696.0,333.8 1704.2,330.0 1712.5,326.2 1720.8,322.5 1728.9,318.9 1737.0,315.4 1745.2,311.9 1753.3,308.5 1761.5,305.2 1769.7,301.9 1777.9,298.7 1786.1,295.5 1794.3,292.4 1802.5,289.4 1810.8,286.4 1819.0,283.5 1827.1,280.7 1835.3,278.0 1843.4,275.3 1851.6,272.8 1859.8,270.2 1868.0,267.8 1876.2,265.4 1884.4,263.0 1892.6,260.7 1900.8,258.4 1909.0,256.1 1917.2,253.9 1925.4,251.7 1933.6,249.5 1941.8,247.4 1949.9,245.3 1958.1,243.2 1966.3,241.2 1974.5,239.2 1982.7,237.3 1990.9,235.3 1999.1,233.4 2007.3,231.5 2015.5,229.6 2023.7,227.8 2031.9,226.0 2040.0,224.2 2048.2,222.5 2056.4,220.7 2064.6,219.0 2072.8,217.4 2081.0,215.7 2089.2,214.0 2097.4,212.3 2105.6,210.6 2113.8,208.9 2212.0,189.4" fill="none" stroke="#EE3C3F" stroke-width="9" stroke-linejoin="round" stroke-linecap="butt"/>
<polyline points="2212.0,158.6 2113.8,158.6 2105.6,160.4 2097.4,162.3 2089.2,164.1 2081.0,165.9 2072.8,167.8 2064.6,169.6 2056.4,171.5 2048.3,173.3 2040.1,175.1 2031.9,176.9 2023.7,178.7 2015.5,180.5 2007.3,182.3 1999.1,184.0 1991.0,185.8 1982.8,187.6 1974.6,189.4 1966.4,191.1 1958.2,192.8 1950.0,194.6 1941.8,196.3 1933.6,197.9 1925.4,199.6 1917.2,201.2 1909.1,202.8 1900.9,204.3 1892.7,205.8 1884.5,207.3 1876.3,208.8 1868.1,210.3 1860.0,211.7 1851.8,213.1 1843.6,214.6 1835.4,216.0 1827.2,217.5 1819.0,219.0 1810.8,220.4 1802.6,221.9 1794.4,223.4 1786.2,224.8 1778.1,226.3 1769.9,227.7 1761.7,229.2 1753.5,230.7 1745.3,232.2 1737.1,233.7 1728.9,235.2 1720.8,236.7 1712.6,238.3 1704.4,239.9 1696.2,241.5 1688.0,243.1 1679.8,244.7 1671.6,246.4 1663.4,248.0 1655.2,249.7 1647.1,251.3 1638.9,253.0 1630.7,254.6 1622.5,256.2 1524.2,279.9 1426.0,317.8 1327.8,375.8 1326.1,377.0 1324.5,378.1 1322.8,379.3 1321.2,380.5 1319.5,381.6 1317.9,382.8 1316.2,383.9 1314.6,385.1 1313.0,386.3 1311.3,387.5 1309.7,388.7 1308.1,390.0 1306.4,391.3 1304.8,392.6 1303.1,393.9 1301.5,395.3 1299.8,396.6 1298.2,398.0 1296.6,399.4 1294.9,400.8 1293.3,402.2 1291.7,403.6 1290.1,405.1 1288.5,406.6 1286.8,408.1 1285.1,409.7 1283.5,411.2 1281.8,412.8 1280.2,414.4 1278.5,416.0 1276.9,417.7 1275.3,419.3 1273.6,421.0 1272.0,422.7 1270.4,424.4 1268.8,426.1 1267.1,427.9 1265.5,429.7 1263.8,431.5 1262.2,433.3 1260.5,435.2 1258.9,437.0 1257.2,438.9 1255.6,440.8 1254.0,442.7 1252.4,444.6 1250.8,446.6 1249.2,448.6 1247.5,450.7 1245.8,452.8 1244.1,455.0 1242.5,457.1 1240.8,459.3 1239.2,461.6 1237.6,463.8 1236.0,466.1 1234.3,468.3 1232.7,470.6 1231.1,472.9 1229.5,475.2 1227.8,477.6 1226.2,480.1 1224.5,482.5 1222.8,485.0 1221.2,487.4 1219.5,489.9 1217.9,492.4 1216.3,495.0 1214.7,497.5 1213.0,500.1 1211.4,502.7 1209.8,505.4 1208.2,508.2 1206.5,511.0 1204.8,513.8 1203.1,516.7 1201.4,519.5 1199.7,522.4 1198.0,525.3 1196.4,528.4 1194.8,531.5 1193.2,534.7 1191.7,538.0 1190.2,541.5 1188.3,546.2 1186.6,551.1 1184.8,556.3 1183.2,561.6 1181.6,567.1 1180.0,572.7 1178.4,578.4 1176.9,584.1 1175.3,589.8 1173.8,595.5 1172.2,601.1 1170.5,606.6 1169.7,614.0 1168.9,621.3 1168.1,628.7 1167.3,636.1 1166.4,643.4 1165.6,650.8 1164.8,658.1 1164.0,665.5 1163.2,672.9 1162.3,680.4 1161.5,687.8 1160.7,695.4 1159.9,703.2 1159.1,711.1 1158.2,719.0 1157.4,727.0 1156.6,735.0 1155.8,743.0 1155.0,751.0 1154.1,759.0 1153.3,767.1 1152.5,775.1 1151.7,783.2 1150.9,791.2 1150.1,799.4 1149.2,807.6 1148.4,815.7 1147.6,823.8 1146.7,832.0 1145.9,840.1 1145.1,848.3 1144.3,856.6 1143.5,865.0 1142.7,873.4 1141.9,882.0 1141.1,890.7 1140.2,900.5 1139.4,910.6 1138.5,920.7 1137.7,931.0 1136.9,941.4 1136.1,951.9 1135.3,962.4 1134.5,973.0 1133.7,983.5 1132.9,994.1 1132.1,1004.5 1131.2,1014.9 1129.6,1022.8 1128.0,1030.7 1126.3,1038.6 1124.7,1046.5 1123.1,1054.4 1121.4,1062.3 1119.8,1070.2 1118.1,1078.1 1116.5,1085.9 1114.9,1093.8 1113.2,1101.7 1111.6,1109.6 1110.0,1117.5 1108.3,1125.4 1106.7,1133.3 1105.1,1141.3 1103.4,1149.2 1101.8,1157.1 1100.2,1165.0 1098.5,1172.9 1096.9,1180.8 1095.3,1188.7 1093.6,1196.5 1091.9,1204.3 1090.3,1211.9 1088.7,1219.5 1087.1,1227.0 1085.5,1234.6 1083.8,1242.1 1082.2,1249.6 1080.6,1257.1 1078.9,1264.6 1077.3,1272.0 1075.6,1279.5 1074.0,1286.9 1072.3,1294.3 1070.7,1301.4 1069.1,1308.6 1067.5,1315.8 1065.9,1323.0 1064.3,1330.2 1062.6,1337.4 1061.0,1344.5 1059.4,1351.5 1057.7,1358.5 1056.1,1365.4 1054.4,1372.2 1052.7,1378.9 1051.1,1384.8 1049.5,1390.7 1047.9,1396.5 1046.2,1402.2 1044.6,1407.8 1042.9,1413.4 1041.3,1419.0 1039.6,1424.6 1038.0,1430.1 1036.3,1435.7 1034.6,1441.3 1033.0,1446.9 934.8,1562.9 836.5,1620.9 828.3,1623.9 820.1,1627.0 812.0,1630.1 803.8,1633.2 795.6,1636.3 787.5,1639.4 779.3,1642.5 771.1,1645.5 762.9,1648.4 754.7,1651.2 746.5,1653.9 738.2,1656.4 730.1,1658.8 722.0,1661.0 713.8,1663.1 705.6,1665.0 697.4,1666.9 689.2,1668.8 681.0,1670.6 672.8,1672.3 664.6,1674.1 656.4,1675.9 648.2,1677.7 640.0,1679.5 631.8,1681.4 623.6,1683.3 615.4,1685.1 607.3,1686.9 599.1,1688.8 590.9,1690.6 582.7,1692.4 574.5,1694.2 566.3,1696.1 558.1,1697.8 549.9,1699.6 541.8,1701.4 533.6,1703.2 525.4,1705.0 517.2,1706.8 509.0,1708.6 500.8,1710.4 492.7,1712.1 484.5,1713.9 476.3,1715.6 468.1,1717.3 459.9,1719.0 451.7,1720.6 443.5,1722.1 435.3,1723.6 427.1,1725.1 419.0,1726.5 410.8,1727.8 402.6,1729.1 394.4,1730.4 386.2,1731.7 378.0,1733.0 369.8,1734.2 361.6,1735.5 353.4,1736.8 345.3,1738.1 247.0,1751.7" fill="none" stroke="#505050" stroke-width="8.5" stroke-linejoin="round" stroke-linecap="butt"/>
<polyline points="247.0,1752.9 345.3,1752.9 353.4,1751.1 361.6,1749.2 369.8,1747.4 378.0,1745.6 386.2,1743.7 394.4,1741.9 402.6,1740.0 410.7,1738.2 418.9,1736.4 427.1,1734.6 435.3,1732.8 443.5,1731.0 451.7,1729.2 459.9,1727.5 468.0,1725.7 476.2,1723.9 484.4,1722.1 492.6,1720.4 500.8,1718.7 509.0,1716.9 517.2,1715.2 525.4,1713.6 533.6,1711.9 541.8,1710.3 549.9,1708.7 558.1,1707.2 566.3,1705.7 574.5,1704.2 582.7,1702.7 590.9,1701.2 599.0,1699.8 607.2,1698.4 615.4,1696.9 623.6,1695.5 631.8,1694.0 640.0,1692.5 648.2,1691.1 656.4,1689.6 664.6,1688.1 672.8,1686.7 680.9,1685.2 689.1,1683.8 697.3,1682.3 705.5,1680.8 713.7,1679.3 721.9,1677.8 730.1,1676.3 738.2,1674.8 746.4,1673.2 754.6,1671.6 762.8,1670.0 771.0,1668.4 779.2,1666.8 787.4,1665.1 795.6,1663.5 803.8,1661.8 811.9,1660.2 820.1,1658.5 828.3,1656.9 836.5,1655.3 934.8,1631.6 1033.0,1593.7 1131.2,1535.7 1132.9,1534.5 1134.5,1533.4 1136.2,1532.2 1137.8,1531.0 1139.5,1529.9 1141.1,1528.7 1142.8,1527.6 1144.4,1526.4 1146.0,1525.2 1147.7,1524.0 1149.3,1522.8 1150.9,1521.5 1152.6,1520.2 1154.2,1518.9 1155.9,1517.6 1157.5,1516.2 1159.2,1514.9 1160.8,1513.5 1162.4,1512.1 1164.1,1510.7 1165.7,1509.3 1167.3,1507.9 1168.9,1506.4 1170.5,1504.9 1172.2,1503.4 1173.9,1501.8 1175.5,1500.3 1177.2,1498.7 1178.8,1497.1 1180.5,1495.5 1182.1,1493.8 1183.7,1492.2 1185.4,1490.5 1187.0,1488.8 1188.6,1487.1 1190.2,1485.4 1191.9,1483.6 1193.5,1481.8 1195.2,1480.0 1196.8,1478.2 1198.5,1476.3 1200.1,1474.5 1201.8,1472.6 1203.4,1470.7 1205.0,1468.8 1206.6,1466.9 1208.2,1464.9 1209.8,1462.9 1211.5,1460.8 1213.2,1458.7 1214.9,1456.5 1216.5,1454.4 1218.2,1452.2 1219.8,1449.9 1221.4,1447.7 1223.0,1445.4 1224.7,1443.2 1226.3,1440.9 1227.9,1438.6 1229.5,1436.3 1231.2,1433.9 1232.8,1431.4 1234.5,1429.0 1236.2,1426.5 1237.8,1424.1 1239.5,1421.6 1241.1,1419.1 1242.7,1416.5 1244.3,1414.0 1246.0,1411.4 1247.6,1408.8 1249.2,1406.1 1250.8,1403.3 1252.5,1400.5 1254.2,1397.7 1255.9,1394.8 1257.6,1392.0 1259.3,1389.1 1261.0,1386.2 1262.6,1383.1 1264.2,1380.0 1265.8,1376.8 1267.3,1373.5 1268.8,1370.0 1270.7,1365.3 1272.4,1360.4 1274.2,1355.2 1275.8,1349.9 1277.4,1344.4 1279.0,1338.8 1280.6,1333.1 1282.1,1327.4 1283.7,1321.7 1285.2,1316.0 1286.8,1310.4 1288.5,1304.9 1289.3,1297.5 1290.1,1290.2 1290.9,1282.8 1291.7,1275.4 1292.6,1268.1 1293.4,1260.7 1294.2,1253.4 1295.0,1246.0 1295.8,1238.6 1296.7,1231.1 1297.5,1223.7 1298.3,1216.1 1299.1,1208.3 1299.9,1200.4 1300.8,1192.5 1301.6,1184.5 1302.4,1176.5 1303.2,1168.5 1304.0,1160.5 1304.9,1152.5 1305.7,1144.4 1306.5,1136.4 1307.3,1128.3 1308.1,1120.3 1308.9,1112.1 1309.8,1103.9 1310.6,1095.8 1311.4,1087.7 1312.3,1079.5 1313.1,1071.4 1313.9,1063.2 1314.7,1054.9 1315.5,1046.5 1316.3,1038.1 1317.1,1029.5 1317.9,1020.8 1318.8,1011.0 1319.6,1000.9 1320.5,990.8 1321.3,980.5 1322.1,970.1 1322.9,959.6 1323.7,949.1 1324.5,938.5 1325.3,928.0 1326.1,917.4 1326.9,907.0 1327.7,896.6 1329.4,888.7 1331.0,880.8 1332.7,872.9 1334.3,865.0 1335.9,857.1 1337.6,849.2 1339.2,841.3 1340.8,833.4 1342.5,825.6 1344.1,817.7 1345.8,809.8 1347.4,801.9 1349.0,794.0 1350.7,786.1 1352.3,778.2 1353.9,770.2 1355.6,762.3 1357.2,754.4 1358.8,746.5 1360.5,738.6 1362.1,730.7 1363.7,722.8 1365.4,715.0 1367.0,707.2 1368.7,699.6 1370.3,692.0 1371.9,684.5 1373.5,676.9 1375.2,669.4 1376.8,661.9 1378.4,654.4 1380.1,646.9 1381.7,639.5 1383.4,632.0 1385.0,624.6 1386.7,617.2 1388.3,610.1 1389.9,602.9 1391.5,595.7 1393.1,588.5 1394.7,581.3 1396.4,574.1 1398.0,567.0 1399.6,560.0 1401.3,553.0 1402.9,546.1 1404.6,539.3 1406.3,532.6 1407.9,526.7 1409.5,520.8 1411.1,515.0 1412.8,509.3 1414.4,503.7 1416.1,498.1 1417.7,492.5 1419.4,486.9 1421.0,481.4 1422.7,475.8 1424.4,470.2 1426.0,464.6 1524.2,348.6 1622.5,290.6 1630.7,287.6 1638.9,284.5 1647.0,281.4 1655.2,278.3 1663.4,275.2 1671.5,272.1 1679.7,269.0 1687.9,266.0 1696.1,263.1 1704.3,260.3 1712.5,257.6 1720.8,255.1 1728.9,252.7 1737.0,250.5 1745.2,248.4 1753.4,246.5 1761.6,244.6 1769.8,242.7 1778.0,240.9 1786.2,239.2 1794.4,237.4 1802.6,235.6 1810.8,233.8 1819.0,232.0 1827.2,230.1 1835.4,228.2 1843.6,226.4 1851.7,224.6 1859.9,222.7 1868.1,220.9 1876.3,219.1 1884.5,217.3 1892.7,215.4 1900.9,213.7 1909.1,211.9 1917.2,210.1 1925.4,208.3 1933.6,206.5 1941.8,204.7 1950.0,202.9 1958.2,201.1 1966.3,199.4 1974.5,197.6 1982.7,195.9 1990.9,194.2 1999.1,192.5 2007.3,190.9 2015.5,189.4 2023.7,187.9 2031.9,186.4 2040.0,185.0 2048.2,183.7 2056.4,182.4 2064.6,181.1 2072.8,179.8 2081.0,178.5 2089.2,177.3 2097.4,176.0 2105.6,174.7 2113.8,173.4 2212.0,159.8" fill="none" stroke="#505050" stroke-width="8.5" stroke-linejoin="round" stroke-linecap="butt"/>
<text x="204.5" y="1865.5" text-anchor="end" style="font-family:'Liberation Serif','Times New Roman',serif;font-size:76px" fill="#000">−15</text>
<text x="204.5" y="1569.5" text-anchor="end" style="font-family:'Liberation Serif','Times New Roman',serif;font-size:76px" fill="#000">−10</text>
<text x="204.5" y="1273.7" text-anchor="end" style="font-family:'Liberation Serif','Times New Roman',serif;font-size:76px" fill="#000">−5</text>
<text x="204.5" y="977.8" text-anchor="end" style="font-family:'Liberation Serif','Times New Roman',serif;font-size:76px" fill="#000">0</text>
<text x="204.5" y="681.9" text-anchor="end" style="font-family:'Liberation Serif','Times New Roman',serif;font-size:76px" fill="#000">5</text>
<text x="204.5" y="386.0" text-anchor="end" style="font-family:'Liberation Serif','Times New Roman',serif;font-size:76px" fill="#000">10</text>
<text x="204.5" y="90.0" text-anchor="end" style="font-family:'Liberation Serif','Times New Roman',serif;font-size:76px" fill="#000">15</text>
<text x="443.5" y="1941.5" text-anchor="middle" style="font-family:'Liberation Serif','Times New Roman',serif;font-size:76px" fill="#000">−40</text>
<text x="836.5" y="1941.5" text-anchor="middle" style="font-family:'Liberation Serif','Times New Roman',serif;font-size:76px" fill="#000">−20</text>
<text x="1229.5" y="1941.5" text-anchor="middle" style="font-family:'Liberation Serif','Times New Roman',serif;font-size:76px" fill="#000">0</text>
<text x="1622.5" y="1941.5" text-anchor="middle" style="font-family:'Liberation Serif','Times New Roman',serif;font-size:76px" fill="#000">20</text>
<text x="2015.5" y="1941.5" text-anchor="middle" style="font-family:'Liberation Serif','Times New Roman',serif;font-size:76px" fill="#000">40</text>
<text x="1229.5" y="2038" text-anchor="middle" style="font-family:'Liberation Serif','Times New Roman',serif;font-size:88px" fill="#000"><tspan font-style="italic">H</tspan> (kOe)</text>
<text transform="translate(89,955.5) rotate(-90)" text-anchor="middle" style="font-family:'Liberation Serif','Times New Roman',serif;font-size:88px" fill="#000"><tspan font-style="italic">M</tspan> (emu/g)</text>
<text x="2175.9" y="134.3" text-anchor="end" style="font-family:'Liberation Serif','Times New Roman',serif;font-size:50.5px" fill="#111">2 K</text>
<text x="2173.4" y="265.4" text-anchor="end" style="font-family:'Liberation Serif','Times New Roman',serif;font-size:50.5px" fill="#FF0000">5 K</text>
<text x="2181.2" y="382.6" text-anchor="end" style="font-family:'Liberation Serif','Times New Roman',serif;font-size:50.5px" fill="#1B6FDF">10 K</text>
<text x="2176.8" y="492.1" text-anchor="end" style="font-family:'Liberation Serif','Times New Roman',serif;font-size:50.5px" fill="#3BAF6E">15 K</text>
<text x="2179.8" y="578.3" text-anchor="end" style="font-family:'Liberation Serif','Times New Roman',serif;font-size:50.5px" fill="#B07ADE">20 K</text>
<text x="2184.7" y="824.5" text-anchor="end" style="font-family:'Liberation Serif','Times New Roman',serif;font-size:50.5px" fill="#CC9900">100 K</text>
<text x="2181.6" y="906.4" text-anchor="end" style="font-family:'Liberation Serif','Times New Roman',serif;font-size:50.5px" fill="#00CCCC">300 K</text>
<rect x="1415.2" y="1023.7" width="757.8" height="673.8" fill="#fff" stroke="none"/>
<polyline points="1420.4,1078.2 1430.0,1095.0 1439.5,1111.8 1449.1,1128.7 1458.7,1145.5 1468.3,1162.3 1477.8,1179.1 1487.3,1195.8 1496.6,1212.4 1505.8,1228.8 1515.2,1245.7 1524.7,1262.7 1534.1,1279.6 1543.2,1296.1 1551.8,1311.8 1559.7,1326.5 1566.9,1340.0 1571.1,1348.0 1575.0,1355.5 1578.7,1362.6 1582.2,1369.4 1585.5,1376.0 1588.6,1382.5 1591.6,1388.9 1594.6,1395.4 1597.1,1401.1 1599.5,1406.9 1601.9,1412.6 1604.1,1418.2 1606.2,1423.7 1608.2,1428.9 1610.1,1434.0 1611.9,1438.7 1613.1,1441.8 1614.2,1444.8 1615.2,1447.6 1616.2,1450.3 1617.1,1452.9 1618.0,1455.6 1618.9,1458.3 1619.7,1461.2 1620.5,1464.3 1621.2,1467.5 1621.9,1470.7 1622.5,1473.9 1623.1,1477.2 1623.7,1480.5 1624.3,1483.8 1624.9,1487.2 1625.6,1491.0 1626.2,1494.8 1626.9,1498.7 1627.5,1502.6 1628.1,1506.5 1628.8,1510.5 1629.4,1514.4 1630.1,1518.4 1630.8,1522.5 1631.5,1526.7 1632.3,1531.0 1633.0,1535.2 1633.8,1539.4 1634.6,1543.5 1635.4,1547.5 1636.2,1551.3 1636.9,1554.3 1637.6,1557.2 1638.3,1560.0 1639.0,1562.8 1639.8,1565.5 1640.6,1568.2 1641.4,1571.0 1642.3,1573.8 1643.3,1577.0 1644.4,1580.2 1645.5,1583.5 1646.7,1586.7 1647.9,1590.0 1649.2,1593.3 1650.5,1596.5 1651.8,1599.7 1653.2,1602.9 1654.5,1606.1 1656.0,1609.3 1657.4,1612.4 1658.9,1615.5 1660.5,1618.5 1662.2,1621.3 1663.9,1624.0 1665.4,1626.2 1667.0,1628.3 1668.6,1630.3 1670.2,1632.3 1671.9,1634.1 1673.7,1635.8 1675.7,1637.3 1677.7,1638.7 1680.0,1639.9 1682.4,1641.0 1685.0,1641.9 1687.6,1642.6 1690.4,1643.2 1693.1,1643.8 1695.8,1644.3 1698.5,1644.8 1701.1,1645.2 1703.5,1645.6 1705.9,1645.8 1708.3,1646.0 1710.9,1646.1 1713.6,1646.2 1716.7,1646.4 1720.0,1646.5 1727.5,1646.8 1736.1,1647.0 1745.7,1647.1 1756.0,1647.2 1766.8,1647.3 1777.9,1647.3 1789.0,1647.4 1800.0,1647.5 1812.9,1647.6 1826.4,1647.7 1840.2,1647.8 1854.2,1648.0 1868.4,1648.1 1882.5,1648.2 1896.4,1648.3 1910.0,1648.5 1922.6,1648.7 1934.8,1648.9 1946.8,1649.1 1958.8,1649.4 1971.0,1649.6 1983.4,1649.9 1996.4,1650.1 2010.0,1650.3 2028.4,1650.5 2047.8,1650.8 2067.9,1651.0 2088.6,1651.2 2109.5,1651.4 2130.6,1651.6 2151.5,1651.8 2172.0,1652.0" fill="none" stroke="#FF0000" stroke-width="6" stroke-linejoin="round"/>
<line x1="1634.5" y1="1563.4" x2="1688.5" y2="1681.4" stroke="#000" stroke-width="6"/>
<line x1="1638.7" y1="1650" x2="1911" y2="1650" stroke="#000" stroke-width="6"/>
<line x1="1688.5" y1="1623.5" x2="1716" y2="1582" stroke="#000" stroke-width="1.8"/>
<polygon points="1729.1,1556.1 1708,1577.2 1720.5,1585.2" fill="#000"/>
<line x1="1415.2" y1="1651.5" x2="1436.2" y2="1651.5" stroke="#000" stroke-width="5.5"/>
<line x1="1415.2" y1="1471.7" x2="1436.2" y2="1471.7" stroke="#000" stroke-width="5.5"/>
<line x1="1415.2" y1="1291.9" x2="1436.2" y2="1291.9" stroke="#000" stroke-width="5.5"/>
<line x1="1415.2" y1="1112.1" x2="1436.2" y2="1112.1" stroke="#000" stroke-width="5.5"/>
<line x1="1415.2" y1="1561.6" x2="1425.7" y2="1561.6" stroke="#000" stroke-width="5.5"/>
<line x1="1415.2" y1="1381.8" x2="1425.7" y2="1381.8" stroke="#000" stroke-width="5.5"/>
<line x1="1415.2" y1="1202.0" x2="1425.7" y2="1202.0" stroke="#000" stroke-width="5.5"/>
<line x1="1663.2" y1="1697.5" x2="1663.2" y2="1676.5" stroke="#000" stroke-width="5.5"/>
<line x1="2007.0" y1="1697.5" x2="2007.0" y2="1676.5" stroke="#000" stroke-width="5.5"/>
<line x1="1422.9" y1="1697.5" x2="1422.9" y2="1686.5" stroke="#000" stroke-width="5.5"/>
<line x1="1483.4" y1="1697.5" x2="1483.4" y2="1686.5" stroke="#000" stroke-width="5.5"/>
<line x1="1526.4" y1="1697.5" x2="1526.4" y2="1686.5" stroke="#000" stroke-width="5.5"/>
<line x1="1559.7" y1="1697.5" x2="1559.7" y2="1686.5" stroke="#000" stroke-width="5.5"/>
<line x1="1586.9" y1="1697.5" x2="1586.9" y2="1686.5" stroke="#000" stroke-width="5.5"/>
<line x1="1609.9" y1="1697.5" x2="1609.9" y2="1686.5" stroke="#000" stroke-width="5.5"/>
<line x1="1629.9" y1="1697.5" x2="1629.9" y2="1686.5" stroke="#000" stroke-width="5.5"/>
<line x1="1647.5" y1="1697.5" x2="1647.5" y2="1686.5" stroke="#000" stroke-width="5.5"/>
<line x1="1766.7" y1="1697.5" x2="1766.7" y2="1686.5" stroke="#000" stroke-width="5.5"/>
<line x1="1827.2" y1="1697.5" x2="1827.2" y2="1686.5" stroke="#000" stroke-width="5.5"/>
<line x1="1870.2" y1="1697.5" x2="1870.2" y2="1686.5" stroke="#000" stroke-width="5.5"/>
<line x1="1903.5" y1="1697.5" x2="1903.5" y2="1686.5" stroke="#000" stroke-width="5.5"/>
<line x1="1930.7" y1="1697.5" x2="1930.7" y2="1686.5" stroke="#000" stroke-width="5.5"/>
<line x1="1953.7" y1="1697.5" x2="1953.7" y2="1686.5" stroke="#000" stroke-width="5.5"/>
<line x1="1973.7" y1="1697.5" x2="1973.7" y2="1686.5" stroke="#000" stroke-width="5.5"/>
<line x1="1991.3" y1="1697.5" x2="1991.3" y2="1686.5" stroke="#000" stroke-width="5.5"/>
<line x1="2110.5" y1="1697.5" x2="2110.5" y2="1686.5" stroke="#000" stroke-width="5.5"/>
<rect x="1415.2" y="1023.7" width="757.8" height="673.8" fill="none" stroke="#000" stroke-width="5.5"/>
<text x="1389.5" y="1666.8" text-anchor="end" style="font-family:'Liberation Serif','Times New Roman',serif;font-size:50px" fill="#000">0</text>
<text x="1389.5" y="1487.0" text-anchor="end" style="font-family:'Liberation Serif','Times New Roman',serif;font-size:50px" fill="#000">2</text>
<text x="1389.5" y="1307.2" text-anchor="end" style="font-family:'Liberation Serif','Times New Roman',serif;font-size:50px" fill="#000">4</text>
<text x="1389.5" y="1127.4" text-anchor="end" style="font-family:'Liberation Serif','Times New Roman',serif;font-size:50px" fill="#000">6</text>
<text x="1663.2" y="1757" text-anchor="middle" style="font-family:'Liberation Serif','Times New Roman',serif;font-size:50px" fill="#000">10</text>
<text x="2007.0" y="1757" text-anchor="middle" style="font-family:'Liberation Serif','Times New Roman',serif;font-size:50px" fill="#000">100</text>
<text x="1795" y="1792" text-anchor="middle" style="font-family:'Liberation Serif','Times New Roman',serif;font-size:61px" fill="#000"><tspan font-style="italic">T</tspan> (K)</text>
<text transform="translate(1345,1363) rotate(-90)" text-anchor="middle" style="font-family:'Liberation Serif','Times New Roman',serif;font-size:59.5px" fill="#000"><tspan font-style="italic">M</tspan> (emu/g)</text>
<line x1="1906" y1="1080.6" x2="2021" y2="1080.6" stroke="#FF0000" stroke-width="8"/>
<text x="2028" y="1100" style="font-family:'Liberation Serif','Times New Roman',serif;font-size:50px" fill="#000">FC</text>
<text x="1910.5" y="1167" style="font-family:'Liberation Serif','Times New Roman',serif;font-size:48.5px" fill="#000"><tspan font-style="italic">H</tspan> = 100 Oe</text>
<text x="1681" y="1518.5" style="font-family:'Liberation Serif','Times New Roman',serif;font-size:60px" fill="#000"><tspan font-style="italic">T</tspan><tspan font-size="39px" dx="-2.5" dy="15">C</tspan><tspan dx="-4" dy="-15">=11 K</tspan></text>
</svg>
</body></html>
